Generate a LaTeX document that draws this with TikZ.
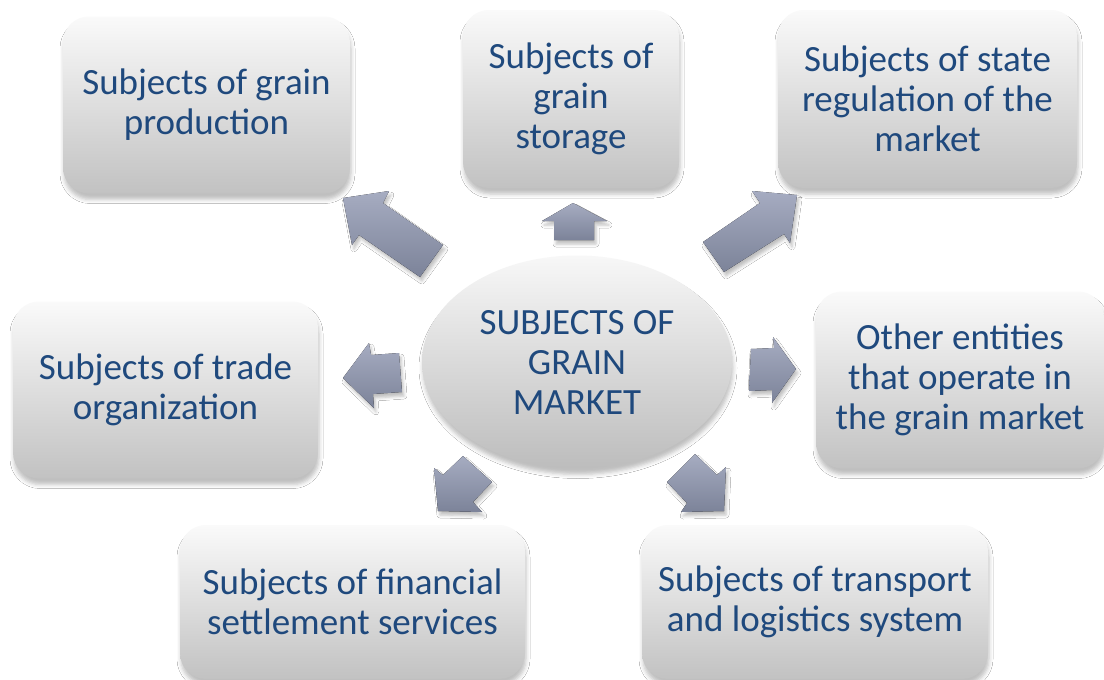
\documentclass[tikz,border=0pt]{standalone}
\usepackage{fontspec}
\setmainfont{Carlito}
\usetikzlibrary{shadows.blur,shapes.geometric}
\definecolor{txt}{RGB}{31,73,125}
\definecolor{atop}{RGB}{166,172,193}
\definecolor{abot}{RGB}{124,131,153}
\begin{document}
\begin{tikzpicture}[x=1pt,y=-1pt,
  boxsty/.style={rounded corners=26pt, top color=black!2, bottom color=black!24,
    blur shadow={shadow xshift=1pt, shadow yshift=-6pt, shadow blur radius=4pt, shadow opacity=25},
    inner sep=0pt, align=center, text=txt, font=\fontsize{37}{40}\selectfont},
  ellsty/.style={ellipse, top color=black!3, bottom color=black!26,
    blur shadow={shadow xshift=1pt, shadow yshift=-6pt, shadow blur radius=4pt, shadow opacity=25},
    inner sep=0pt, align=center, text=txt, font=\fontsize{37}{40}\selectfont},
  arrowsty/.style={top color=atop, bottom color=abot,
    blur shadow={shadow xshift=2pt, shadow yshift=-4pt, shadow blur radius=3pt, shadow opacity=25}}]
\useasboundingbox (0,0) rectangle (1104,680);
\fill[white] (0,0) rectangle (1104,680);

\node[boxsty, minimum width=287pt, minimum height=177pt] (prod) at (206.5,105) {Subjects of grain\\production};
\node[boxsty, minimum width=216pt, minimum height=178pt] (stor) at (571,99) {Subjects of\\grain\\storage};
\node[boxsty, minimum width=299pt, minimum height=178pt] (state) at (927.5,99) {Subjects of state\\regulation of the\\market};
\node[boxsty, minimum width=305pt, minimum height=177pt] (trade) at (165.5,390) {Subjects of trade\\organization};
\node[boxsty, minimum width=288pt, minimum height=177pt] (other) at (960,380) {Other entities\\that operate in\\the grain market};
\node[boxsty, minimum width=345pt, minimum height=154pt] (fin) at (352.5,602) {Subjects of financial\\settlement services};
\node[boxsty, minimum width=346pt, minimum height=154pt] (trans) at (815,602) {Subjects of transport\\and logistics system};

\node[ellsty, minimum width=310pt, minimum height=213pt] (mkt) at (577,362) {SUBJECTS OF\\GRAIN\\MARKET};

% block arrows
\fill[arrowsty] (343,198) -- (389,191) -- (383,203) -- (443,245) -- (420,277) -- (359,235) -- (352,245) -- cycle;
\fill[arrowsty] (573,203) -- (607,221) -- (594,221) -- (594,240) -- (554,240) -- (554,221) -- (542,221) -- cycle;
\fill[arrowsty] (797,195) -- (752,191) -- (760,203) -- (703,242) -- (724,272) -- (784,234) -- (790,243) -- cycle;
\fill[arrowsty] (343,378) -- (369,343) -- (371,355) -- (399,353) -- (402,392) -- (373,394) -- (374,408) -- cycle;
\fill[arrowsty] (751,349) -- (774,348) -- (773,337) -- (796,369) -- (772,403) -- (772,390) -- (749,391) -- cycle;
\fill[arrowsty] (438,511) -- (434,468) -- (443,475) -- (463,456) -- (492,482) -- (473,502) -- (482,512) -- cycle;
\fill[arrowsty] (695,454) -- (717,475) -- (726,467) -- (724,511) -- (681,512) -- (687,503) -- (667,482) -- cycle;
\end{tikzpicture}
\end{document}
